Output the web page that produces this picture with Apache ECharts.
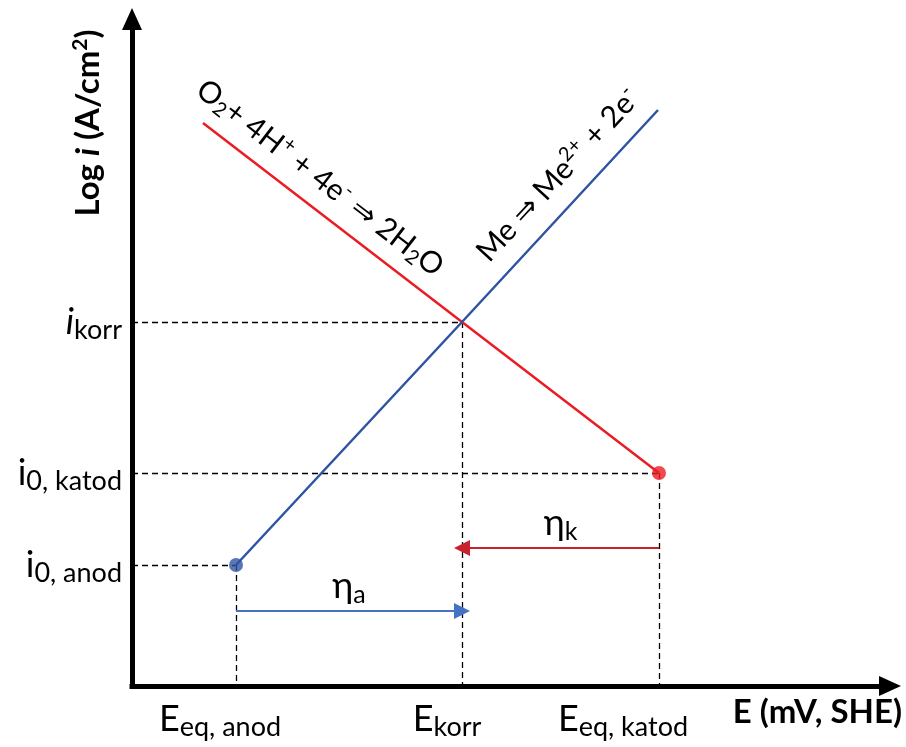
<!DOCTYPE html>
<html>
<head>
<meta charset="utf-8">
<script src="https://cdn.jsdelivr.net/npm/echarts@6/dist/echarts.min.js"></script>
<style>
    html, body { margin: 0; padding: 0; background: #fff; }
    #chart { width: 906px; height: 747px; }
</style>
</head>
<body>
<div id="chart"></div>
<script>
    // Potentiale auf der E-Achse
    const eNames = ['eq, anod', 'korr', 'eq, katod'];
    const eValues = [104, 330, 527];
    // Stromdichten auf der log i-Achse
    const iNames = ['0, anod', '0, katod', 'korr'];
    const iValues = [121, 213, 364];
    // Tafel-Geraden: kathodisch (O2-Reduktion), anodisch (Metallauflösung)
    const cathodicLine = [[71, 563], [330, 364], [527, 213]];
    const anodicLine = [[104, 121], [330, 364], [526, 576]];
    // Überspannungen
    const etaA = [[104, 75], [330, 75]];
    const etaK = [[527, 138], [330, 138]];

    const FONT = 'Lato, "Open Sans", sans-serif';
    const RED = '#ec1c24';
    const BLUE = '#2f54a3';

    // Hilfslinien (gestrichelt)
    const guides = [];
    for (let k = 0; k < eValues.length; k++) {
        // E und i gehören paarweise zusammen: anod, korr, katod
        const e = eValues[k];
        const i = [iValues[0], iValues[2], iValues[1]][k];
        guides.push({coords: [[0, i], [e, i]]});
        guides.push({coords: [[e, i], [e, 0]]});
    }

    const chart = echarts.init(document.getElementById('chart'));

    chart.setOption({
        animation: false,
        textStyle: {fontFamily: FONT},
        grid: {left: 132, right: 16, top: 19, bottom: 61, outerBoundsMode: 'none'},
        xAxis: {
            type: 'value', min: 0, max: 758,
            splitLine: {show: false},
            axisTick: {show: false},
            axisLine: {
                onZero: false,
                symbol: ['none', 'triangle'], symbolSize: [20, 22],
                lineStyle: {color: '#000', width: 5, cap: 'square'}
            },
            axisLabel: {
                customValues: eValues,
                margin: 12,
                color: '#000',
                formatter: function (v) {
                    const k = eValues.indexOf(v);
                    return '{m|E}{s' + k + '|' + eNames[k] + '}';
                },
                rich: {
                    m: {fontSize: 36, fontFamily: FONT, color: '#000'},
                    s0: {fontSize: 27, fontFamily: FONT, color: '#000', padding: [16, 32, 0, 0]},
                    s1: {fontSize: 27, fontFamily: FONT, color: '#000', padding: [16, 30, 0, 0]},
                    s2: {fontSize: 27, fontFamily: FONT, color: '#000', padding: [16, 72, 0, 0]}
                }
            },
            name: 'E (mV, SHE)',
            nameLocation: 'end',
            nameGap: 12,
            nameTextStyle: {
                fontSize: 33, fontWeight: 'bold', color: '#000', fontFamily: FONT,
                align: 'right', verticalAlign: 'top', padding: [10, 0, 0, 0]
            }
        },
        yAxis: {
            type: 'value', min: 0, max: 667,
            splitLine: {show: false},
            axisTick: {show: false},
            axisLine: {
                onZero: false,
                symbol: ['none', 'triangle'], symbolSize: [20, 22],
                lineStyle: {color: '#000', width: 5, cap: 'square'}
            },
            axisLabel: {
                customValues: iValues,
                margin: 10,
                color: '#000',
                formatter: function (v) {
                    const k = iValues.indexOf(v);
                    const head = iNames[k] === 'korr' ? '{it|i}' : '{m|i}';
                    return head + '{s|' + iNames[k] + '}';
                },
                rich: {
                    m: {fontSize: 36, fontFamily: FONT, color: '#000'},
                    it: {fontSize: 36, fontFamily: FONT, fontStyle: 'italic', color: '#000'},
                    s: {fontSize: 27, fontFamily: FONT, color: '#000', padding: [16, 0, 0, 0]}
                }
            }
        },
        graphic: [
            {
                type: 'text', x: 88, y: 123, rotation: Math.PI / 2,
                style: {
                    text: '{b|Log }{bi|i}{b| (A/cm}{bs|2}{b|)}',
                    align: 'center', verticalAlign: 'middle',
                    rich: {
                        b: {fontSize: 33, fontWeight: 'bold', fontFamily: FONT, fill: '#000'},
                        bi: {fontSize: 33, fontWeight: 'bold', fontStyle: 'italic', fontFamily: FONT, fill: '#000'},
                        bs: {fontSize: 21, fontWeight: 'bold', fontFamily: FONT, fill: '#000', padding: [0, 0, 16, 0]}
                    }
                }
            },
            {
                type: 'text', x: 320, y: 178, rotation: -37.5 * Math.PI / 180,
                style: {
                    text: '{n|O}{sb|2}{n|+ 4H}{sp|+}{n| + 4e}{sp|-}{n| ⇒ 2H}{sb|2}{n|O}',
                    align: 'center', verticalAlign: 'middle',
                    rich: {
                        n: {fontSize: 30, fontFamily: FONT, fill: '#000'},
                        sb: {fontSize: 20, fontFamily: FONT, fill: '#000', padding: [14, 0, 0, 0]},
                        sp: {fontSize: 20, fontFamily: FONT, fill: '#000', padding: [0, 0, 16, 0]}
                    }
                }
            },
            {
                type: 'text', x: 558, y: 175, rotation: 47.2 * Math.PI / 180,
                style: {
                    text: '{n|Me ⇒ Me}{sp|2+}{n| + 2e}{sp|-}',
                    align: 'center', verticalAlign: 'middle',
                    rich: {
                        n: {fontSize: 30, fontFamily: FONT, fill: '#000'},
                        sp: {fontSize: 20, fontFamily: FONT, fill: '#000', padding: [0, 0, 16, 0]}
                    }
                }
            }
        ],
        series: [
            {
                type: 'lines',
                coordinateSystem: 'cartesian2d',
                z: 1,
                silent: true,
                lineStyle: {color: '#000', width: 1.3, type: [6, 4], opacity: 1},
                data: guides
            },
            {
                type: 'line',
                data: cathodicLine,
                showSymbol: false,
                z: 3,
                lineStyle: {color: RED, width: 2.5}
            },
            {
                type: 'line',
                data: anodicLine,
                showSymbol: false,
                z: 3,
                lineStyle: {color: BLUE, width: 2.5}
            },
            {
                type: 'scatter',
                z: 4,
                symbolSize: 14,
                data: [
                    {value: [eValues[0], iValues[0]], itemStyle: {color: BLUE}},
                    {value: [eValues[2], iValues[1]], itemStyle: {color: RED}}
                ]
            },
            {
                type: 'lines',
                coordinateSystem: 'cartesian2d',
                z: 3,
                silent: true,
                symbol: ['none', 'triangle'],
                symbolSize: 16,
                label: {
                    show: true,
                    position: 'middle',
                    distance: 4,
                    color: '#000',
                    rich: {
                        m: {fontSize: 36, fontFamily: FONT, color: '#000'},
                        s: {fontSize: 25, fontFamily: FONT, color: '#000', padding: [16, 0, 0, 0]}
                    }
                },
                data: [
                    {
                        coords: etaA,
                        lineStyle: {color: '#4472c4', width: 1.8, opacity: 1},
                        label: {formatter: '{m|η}{s|a}'}
                    },
                    {
                        coords: etaK,
                        lineStyle: {color: '#c8232c', width: 1.8, opacity: 1},
                        label: {formatter: '{m|η}{s|k}'}
                    }
                ]
            }
        ]
    });

    window.addEventListener('resize', function () {
        chart.resize();
    });
</script>
</body>
</html>
